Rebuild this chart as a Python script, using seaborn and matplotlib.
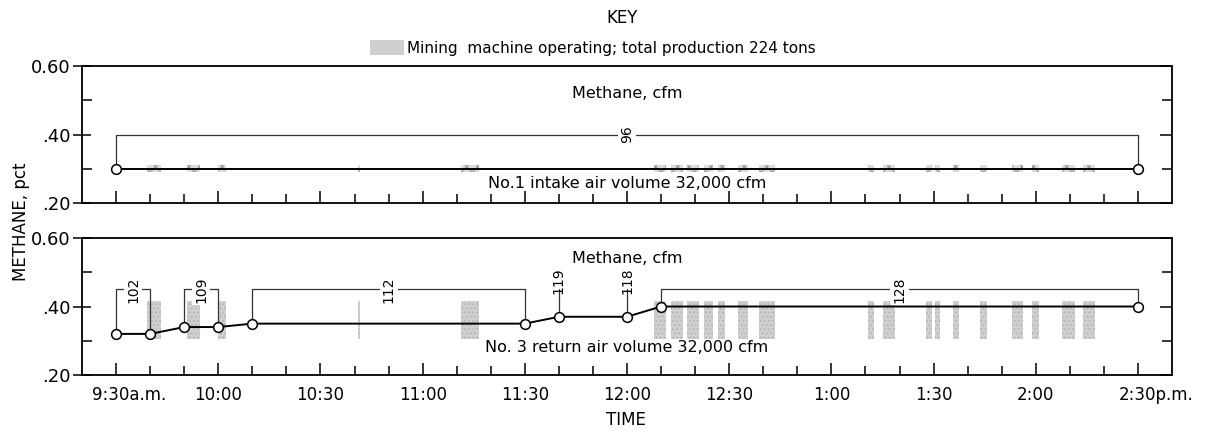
import matplotlib
matplotlib.use("Agg")
import matplotlib.pyplot as plt
import matplotlib.lines as mlines
import matplotlib.transforms as mtransforms
from matplotlib.patches import Patch
import seaborn as sns

sns.set_style("ticks")
plt.rcParams['font.family'] = ['DejaVu Sans']
plt.rcParams['text.color'] = 'black'
plt.rcParams['xtick.color'] = 'black'
plt.rcParams['ytick.color'] = 'black'
plt.rcParams['hatch.linewidth'] = 0.8

# times are minutes after 9:30 a.m.
intake_time = [0, 300]
intake_pct = [0.30, 0.30]
return_time = [0, 10, 20, 30, 40, 120, 130, 150, 160, 300]
return_pct = [0.32, 0.32, 0.34, 0.34, 0.35, 0.35, 0.37, 0.37, 0.40, 0.40]

# mining machine operating periods
mining_start = [9.1, 20.8, 29.9, 71.0, 101.2, 157.8, 163.0, 167.7, 172.7, 176.8, 182.7,
                188.6, 220.8, 225.2, 237.8, 240.5, 245.7, 253.7, 263.0, 268.9, 277.7, 283.9]
mining_end = [13.2, 24.6, 32.3, 71.6, 106.5, 161.3, 166.3, 171.0, 175.1, 178.9, 185.6,
              193.5, 222.6, 228.7, 239.6, 241.9, 247.5, 255.7, 266.3, 271.0, 281.5, 287.4]

# methane, cfm (brackets)
intake_br_start = [0]
intake_br_end = [300]
intake_br_label = ["96"]
return_br_start = [0, 20, 40, 160]
return_br_end = [10, 30, 120, 300]
return_br_label = ["102", "109", "112", "128"]
return_single_time = [130, 150]
return_single_label = ["119", "118"]

tick_times = list(range(0, 301, 30))
tick_labels = ["9:30a.m.", "10:00", "10:30", "11:00", "11:30", "12:00",
               "12:30", "1:00", "1:30", "2:00", "2:30p.m."]

GRAY = "#cfcfcf"

fig = plt.figure(figsize=(12.07, 4.32), dpi=100)
ax1 = fig.add_axes([0.068, 0.530, 0.903, 0.317])
ax2 = fig.add_axes([0.068, 0.132, 0.903, 0.317])


def bracket(ax, x0, x1, y0, y1, level, label):
    ax.plot([x0, x0, x1, x1], [y0, level, level, y1], color="#333333", lw=0.9, zorder=2)
    ax.text((x0 + x1) / 2, level, label, rotation=90, ha="center", va="center",
            fontsize=10, bbox=dict(facecolor="white", edgecolor="none", pad=1.5), zorder=4)


for ax in (ax1, ax2):
    ax.set_xlim(-10, 310)
    ax.set_ylim(0.2, 0.6)
    ax.set_xticks(tick_times)
    ax.set_xticks(range(0, 301, 10), minor=True)
    ax.set_yticks([0.2, 0.4, 0.6])
    ax.set_yticks([0.3, 0.5], minor=True)
    ax.set_yticklabels([".20", ".40", "0.60"], fontsize=13)
    ax.tick_params(axis="x", which="major", direction="in", length=9, width=1.1)
    ax.tick_params(axis="x", which="minor", direction="in", length=6.5, width=1.1)
    ax.tick_params(axis="y", which="major", direction="inout", length=13, width=1.1,
                   right=True, pad=2)
    ax.tick_params(axis="y", which="minor", direction="in", length=7, width=1.1, right=True)
    for s in ax.spines.values():
        s.set_linewidth(1.3)
        s.set_color("black")
    ax.set_xlabel("")
    ax.set_ylabel("")

# top panel: intake
ax1.bar(mining_start, [0.02] * len(mining_start), bottom=0.29,
        width=[e - s for s, e in zip(mining_start, mining_end)], align="edge",
        facecolor="#dddddd", edgecolor="#999999", hatch="xxx", lw=0, zorder=3)
sns.lineplot(x=intake_time, y=intake_pct, ax=ax1, color="black", lw=1.4, marker="o",
             markersize=7, markerfacecolor="white", markeredgecolor="black",
             markeredgewidth=1.1, zorder=5)
intake_lookup = dict(zip(intake_time, intake_pct))
for s, e, lab in zip(intake_br_start, intake_br_end, intake_br_label):
    bracket(ax1, s, e, intake_lookup[s], intake_lookup[e], 0.40, lab)
ax1.text(150, 0.52, "Methane, cfm", ha="center", va="center", fontsize=11.5)
ax1.text(150, 0.258, "No.1 intake air volume 32,000 cfm", ha="center", va="center",
         fontsize=11.5)
ax1.set_xticklabels([])

# bottom panel: return
ax2.bar(mining_start, [0.11] * len(mining_start), bottom=0.305,
        width=[e - s for s, e in zip(mining_start, mining_end)], align="edge",
        facecolor=GRAY, edgecolor="#b5b5b5", hatch="....", lw=0, zorder=1)
sns.lineplot(x=return_time, y=return_pct, ax=ax2, color="black", lw=1.4, marker="o",
             markersize=7, markerfacecolor="white", markeredgecolor="black",
             markeredgewidth=1.1, zorder=5)
return_lookup = dict(zip(return_time, return_pct))
for s, e, lab in zip(return_br_start, return_br_end, return_br_label):
    bracket(ax2, s, e, return_lookup[s], return_lookup[e], 0.45, lab)
for t, lab in zip(return_single_time, return_single_label):
    ax2.plot([t, t], [return_lookup[t], 0.45], color="#333333", lw=0.9, zorder=2)
    ax2.text(t, 0.475, lab, rotation=90, ha="center", va="center", fontsize=10)
ax2.text(150, 0.539, "Methane, cfm", ha="center", va="center", fontsize=11.5)
ax2.text(150, 0.279, "No. 3 return air volume 32,000 cfm", ha="center", va="center",
         fontsize=11.5)
ax2.set_xticklabels(tick_labels, fontsize=12)
ax2.tick_params(axis="x", which="major", pad=8)
labs = ax2.get_xticklabels()
labs[0].set_transform(labs[0].get_transform() +
                      mtransforms.ScaledTranslation(0.13, 0, fig.dpi_scale_trans))
labs[-1].set_transform(labs[-1].get_transform() +
                       mtransforms.ScaledTranslation(0.18, 0, fig.dpi_scale_trans))

# right-hand y ticks point inward only
for ax in (ax1, ax2):
    for t in ax.yaxis.get_major_ticks():
        t.tick2line.set_marker(mlines.TICKLEFT)
        t.tick2line.set_markersize(9)

# key and axis titles
fig.text(0.515, 0.958, "KEY", ha="center", va="center", fontsize=12)
fig.legend(handles=[Patch(facecolor=GRAY, edgecolor="none",
                          label="Mining  machine operating; total production 224 tons")],
           loc="center", bbox_to_anchor=(0.491, 0.889), frameon=False, fontsize=11,
           handlelength=2.2, handleheight=1.1, handletextpad=0.2)
fig.text(0.017, 0.486, "METHANE, pct", rotation=90, ha="center", va="center", fontsize=12)
fig.text(0.519, 0.028, "TIME", ha="center", va="center", fontsize=12)

fig.savefig("out.png", dpi=100)
